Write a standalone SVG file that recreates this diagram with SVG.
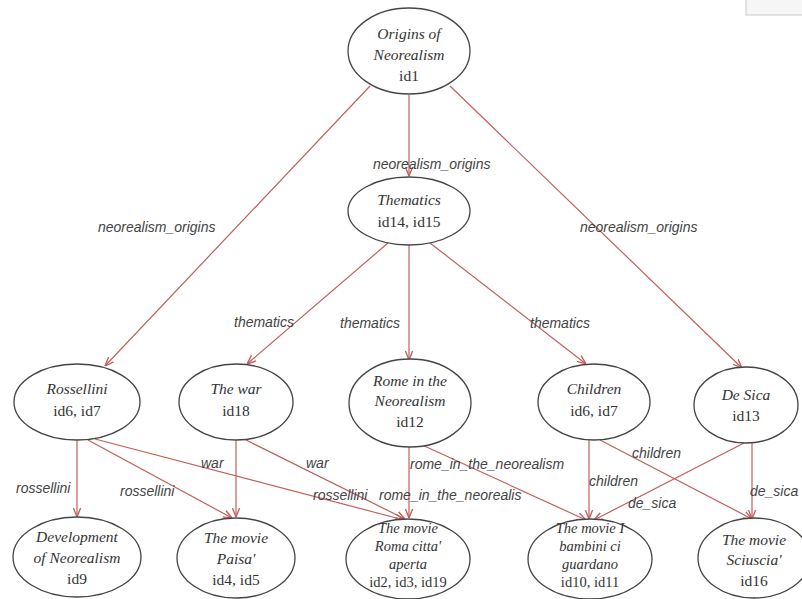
<svg xmlns="http://www.w3.org/2000/svg" width="802" height="599" viewBox="0 0 802 599">
<defs>
<marker id="arr" viewBox="0 0 10 10" refX="10" refY="5" markerWidth="9" markerHeight="9" orient="auto" markerUnits="userSpaceOnUse">
<path d="M0,1 L10,5 L0,9" fill="none" stroke="#c0605a" stroke-width="1.5"/>
</marker>
</defs>
<style>
.n ellipse{fill:#fff;stroke:#444;stroke-width:1.3}
.t{font-family:"Liberation Serif",serif;font-style:italic;font-size:15.5px;fill:#333;text-anchor:middle}
.i{font-family:"Liberation Serif",serif;font-size:15.5px;fill:#333;text-anchor:middle}
.e line{stroke:#c0605a;stroke-width:1.2;marker-end:url(#arr)}
.l{font-family:"Liberation Sans",sans-serif;font-style:italic;font-size:14px;fill:#444}
</style>
<rect width="802" height="599" fill="#fff"/>
<rect x="746" y="-2" width="60" height="17" fill="#f6f6f6" stroke="#c8c8c8"/>
<g id="edges" class="e">
<line x1="370" y1="86" x2="105" y2="366"/>
<line x1="409" y1="95" x2="409" y2="176"/>
<line x1="450" y1="86" x2="742" y2="368"/>
<line x1="388" y1="243" x2="247" y2="364"/>
<line x1="409" y1="245" x2="409" y2="360"/>
<line x1="430" y1="243" x2="586" y2="364"/>
<line x1="77" y1="440" x2="77" y2="517"/>
<line x1="88" y1="440" x2="232" y2="518"/>
<line x1="95" y1="439" x2="404" y2="520"/>
<line x1="236" y1="440" x2="236" y2="517"/>
<line x1="246" y1="440" x2="405" y2="519"/>
<line x1="409" y1="447" x2="409" y2="518"/>
<line x1="420" y1="444" x2="586" y2="520"/>
<line x1="589" y1="440" x2="589" y2="519"/>
<line x1="600" y1="440" x2="752" y2="519"/>
<line x1="744" y1="443" x2="594" y2="520"/>
<line x1="752" y1="443" x2="752" y2="519"/>
</g>
<g id="edge-labels">
<text class="l" x="98" y="232">neorealism_origins</text>
<text class="l" x="373" y="169">neorealism_origins</text>
<text class="l" x="580" y="232">neorealism_origins</text>
<text class="l" x="234" y="327">thematics</text>
<text class="l" x="340" y="328">thematics</text>
<text class="l" x="530" y="328">thematics</text>
<text class="l" x="16" y="493">rossellini</text>
<text class="l" x="120" y="496">rossellini</text>
<text class="l" x="313" y="500">rossellini</text>
<text class="l" x="201" y="468">war</text>
<text class="l" x="306" y="468">war</text>
<text class="l" x="379" y="500">rome_in_the_neorealis</text>
<text class="l" x="410" y="469">rome_in_the_neorealism</text>
<text class="l" x="589" y="486">children</text>
<text class="l" x="632" y="458">children</text>
<text class="l" x="628" y="508">de_sica</text>
<text class="l" x="750" y="496">de_sica</text>
</g>
<g id="id1" class="n"><ellipse cx="409" cy="51" rx="61" ry="43"/><text class="t" x="409" y="39">Origins of</text><text class="t" x="409" y="60">Neorealism</text><text class="i" x="409" y="81">id1</text></g>
<g id="thematics" class="n"><ellipse cx="409" cy="211" rx="61" ry="34"/><text class="t" x="409" y="205">Thematics</text><text class="i" x="409" y="227">id14, id15</text></g>
<g id="rossellini" class="n"><ellipse cx="77" cy="402" rx="63" ry="38"/><text class="t" x="77" y="394">Rossellini</text><text class="i" x="77" y="416">id6, id7</text></g>
<g id="war" class="n"><ellipse cx="236" cy="402" rx="57" ry="38"/><text class="t" x="236" y="394">The war</text><text class="i" x="236" y="416">id18</text></g>
<g id="rome" class="n"><ellipse cx="410" cy="403" rx="61" ry="44"/><text class="t" x="410" y="386">Rome in the</text><text class="t" x="410" y="406">Neorealism</text><text class="i" x="410" y="427">id12</text></g>
<g id="children" class="n"><ellipse cx="594" cy="402" rx="56" ry="38"/><text class="t" x="594" y="394">Children</text><text class="i" x="594" y="416">id6, id7</text></g>
<g id="desica" class="n"><ellipse cx="746" cy="405" rx="52" ry="38"/><text class="t" x="746" y="400">De Sica</text><text class="i" x="746" y="421">id13</text></g>
<g id="development" class="n"><ellipse cx="77" cy="557" rx="64" ry="40"/><text class="t" x="77" y="542">Development</text><text class="t" x="77" y="563">of Neorealism</text><text class="i" x="77" y="584">id9</text></g>
<g id="paisa" class="n"><ellipse cx="236" cy="558" rx="59" ry="40"/><text class="t" x="236" y="543">The movie</text><text class="t" x="236" y="564">Paisa'</text><text class="i" x="236" y="585">id4, id5</text></g>
<g id="roma" class="n"><ellipse cx="408" cy="559" rx="62" ry="40"/><text class="t" x="408" y="533" style="font-size:14.5px">The movie</text><text class="t" x="408" y="551" style="font-size:14.5px">Roma citta'</text><text class="t" x="408" y="569" style="font-size:14.5px">aperta</text><text class="i" x="408" y="587" style="font-size:14.5px">id2, id3, id19</text></g>
<g id="bambini" class="n"><ellipse cx="590" cy="559" rx="62" ry="40"/><text class="t" x="590" y="533" style="font-size:14.5px">The movie I</text><text class="t" x="590" y="551" style="font-size:14.5px">bambini ci</text><text class="t" x="590" y="569" style="font-size:14.5px">guardano</text><text class="i" x="590" y="587" style="font-size:14.5px">id10, id11</text></g>
<g id="sciuscia" class="n"><ellipse cx="754" cy="558" rx="56" ry="40"/><text class="t" x="754" y="545">The movie</text><text class="t" x="754" y="565">Sciuscia'</text><text class="i" x="754" y="586">id16</text></g>
</svg>
